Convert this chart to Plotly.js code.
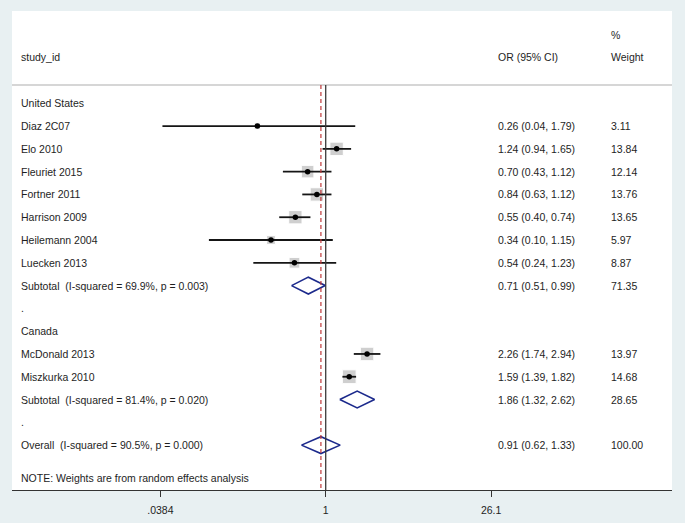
<!DOCTYPE html>
<html>
<head>
<meta charset="utf-8">
<script src="https://cdn.plot.ly/plotly-3.0.1.min.js"></script>
<style>
  body { margin: 0; background: #e8f0f2; }
  #forest { width: 685px; height: 523px; }
</style>
</head>
<body>
<div id="forest"></div>
<script>
// rows of the table, top to bottom
var rowLabels = ['United States', 'Diaz 2C07', 'Elo 2010', 'Fleuriet 2015', 'Fortner 2011',
  'Harrison 2009', 'Heilemann 2004', 'Luecken 2013',
  'Subtotal\u00a0 (I-squared = 69.9%, p = 0.003)', '.', 'Canada', 'McDonald 2013',
  'Miszkurka 2010', 'Subtotal\u00a0 (I-squared = 81.4%, p = 0.020)', '.',
  'Overall\u00a0 (I-squared = 90.5%, p = 0.000)'];

// single studies
var studyNames = ['Diaz 2C07', 'Elo 2010', 'Fleuriet 2015', 'Fortner 2011', 'Harrison 2009',
  'Heilemann 2004', 'Luecken 2013', 'McDonald 2013', 'Miszkurka 2010'];
var studyOR = [0.26, 1.24, 0.70, 0.84, 0.55, 0.34, 0.54, 2.26, 1.59];
var studyLo = [0.04, 0.94, 0.43, 0.63, 0.40, 0.10, 0.24, 1.74, 1.39];
var studyHi = [1.79, 1.65, 1.12, 1.12, 0.74, 1.15, 1.23, 2.94, 1.82];
var studyWeight = [3.11, 13.84, 12.14, 13.76, 13.65, 5.97, 8.87, 13.97, 14.68];

// pooled estimates (subtotals + overall)
var pooledNames = ['Subtotal\u00a0 (I-squared = 69.9%, p = 0.003)',
  'Subtotal\u00a0 (I-squared = 81.4%, p = 0.020)',
  'Overall\u00a0 (I-squared = 90.5%, p = 0.000)'];
var pooledRows = [8, 13, 15];
var pooledOR = [0.71, 1.86, 0.91];
var pooledLo = [0.51, 1.32, 0.62];
var pooledHi = [0.99, 2.62, 1.33];
var pooledWeight = [71.35, 28.65, 100.00];

var tickVals = [0.0384, 1, 26.1];
var tickText = ['.0384', '1', '26.1'];

var studyRows = studyNames.map(n => rowLabels.indexOf(n));
var fmt = v => v.toFixed(2);

// grey weight boxes
var boxes = {
  x: studyOR, y: studyRows, type: 'scatter', mode: 'markers',
  marker: { symbol: 'square', color: '#bcbcbc', size: studyWeight.map(w => 3.6 * Math.sqrt(w)) },
  hoverinfo: 'skip'
};

// CI lines
var ciX = [], ciY = [];
studyNames.forEach((n, i) => {
  ciX.push(studyLo[i], studyHi[i], null);
  ciY.push(studyRows[i], studyRows[i], null);
});
var ciLines = {
  x: ciX, y: ciY, type: 'scatter', mode: 'lines',
  line: { color: '#151515', width: 1.8 }, hoverinfo: 'skip'
};

var dots = {
  x: studyOR, y: studyRows, type: 'scatter', mode: 'markers',
  marker: { color: '#000', size: 5.5 }
};

// diamonds
var h = 0.37;
var diamonds = pooledOR.map((o, i) => ({
  x: [pooledLo[i], o, pooledHi[i], o, pooledLo[i]],
  y: [pooledRows[i], pooledRows[i] - h, pooledRows[i], pooledRows[i] + h, pooledRows[i]],
  type: 'scatter', mode: 'lines', fill: 'toself', fillcolor: '#fff',
  line: { color: '#1c2a8c', width: 1.6 }, hoverinfo: 'skip'
}));

var data = [boxes, ciLines, dots].concat(diamonds);

var txtFont = { family: 'Liberation Sans, Arial, sans-serif', size: 10.5, color: '#1e1e1e' };
function note(x, y, text) {
  return { xref: 'paper', yref: 'y', x: x, y: y, text: text, showarrow: false,
    xanchor: 'left', yanchor: 'middle', font: txtFont, borderpad: 0, borderwidth: 0 };
}

var annotations = [];
rowLabels.forEach((t, r) => annotations.push(note(0.013, r, t)));
studyNames.forEach((n, i) => {
  annotations.push(note(0.736, studyRows[i], fmt(studyOR[i]) + ' (' + fmt(studyLo[i]) + ', ' + fmt(studyHi[i]) + ')'));
  annotations.push(note(0.907, studyRows[i], fmt(studyWeight[i])));
});
pooledNames.forEach((n, i) => {
  annotations.push(note(0.736, pooledRows[i], fmt(pooledOR[i]) + ' (' + fmt(pooledLo[i]) + ', ' + fmt(pooledHi[i]) + ')'));
  annotations.push(note(0.907, pooledRows[i], fmt(pooledWeight[i])));
});
annotations.push(note(0.013, -2.03, 'study_id'));
annotations.push(note(0.736, -2.03, 'OR (95% CI)'));
annotations.push(note(0.907, -2.03, 'Weight'));
annotations.push(note(0.907, -2.99, '%'));
annotations.push(note(0.013, 16.45, 'NOTE: Weights are from random effects analysis'));

var yBottom = 16.97;
var layout = {
  width: 685, height: 523,
  margin: { l: 12, r: 13, t: 11, b: 33 },
  paper_bgcolor: '#e8f0f2',
  plot_bgcolor: '#fff',
  showlegend: false,
  xaxis: {
    type: 'log', range: [-2.686, 2.965],
    tickvals: tickVals, ticktext: tickText,
    ticks: 'outside', ticklen: 6, tickcolor: '#333', tickwidth: 1.2,
    ticklabelstandoff: 4,
    showline: true, linecolor: '#333', linewidth: 1.2,
    showgrid: false, zeroline: false,
    tickfont: txtFont
  },
  yaxis: { range: [yBottom, -4.05], visible: false, showgrid: false, zeroline: false },
  annotations: annotations,
  shapes: [
    { type: 'line', xref: 'paper', yref: 'y', x0: 0, x1: 1, y0: -0.8, y1: -0.8,
      line: { color: '#c8c8c8', width: 1.5 } },
    { type: 'line', xref: 'x', yref: 'y', x0: 1, x1: 1, y0: -0.8, y1: yBottom,
      line: { color: '#3a3a3a', width: 1.3 } },
    { type: 'line', xref: 'x', yref: 'y', x0: pooledOR[2], x1: pooledOR[2], y0: -0.8, y1: yBottom,
      line: { color: '#c0393b', width: 1.2, dash: '4px,3px' } }
  ]
};

Plotly.newPlot('forest', data, layout, { displayModeBar: false, staticPlot: true });
</script>
</body>
</html>
